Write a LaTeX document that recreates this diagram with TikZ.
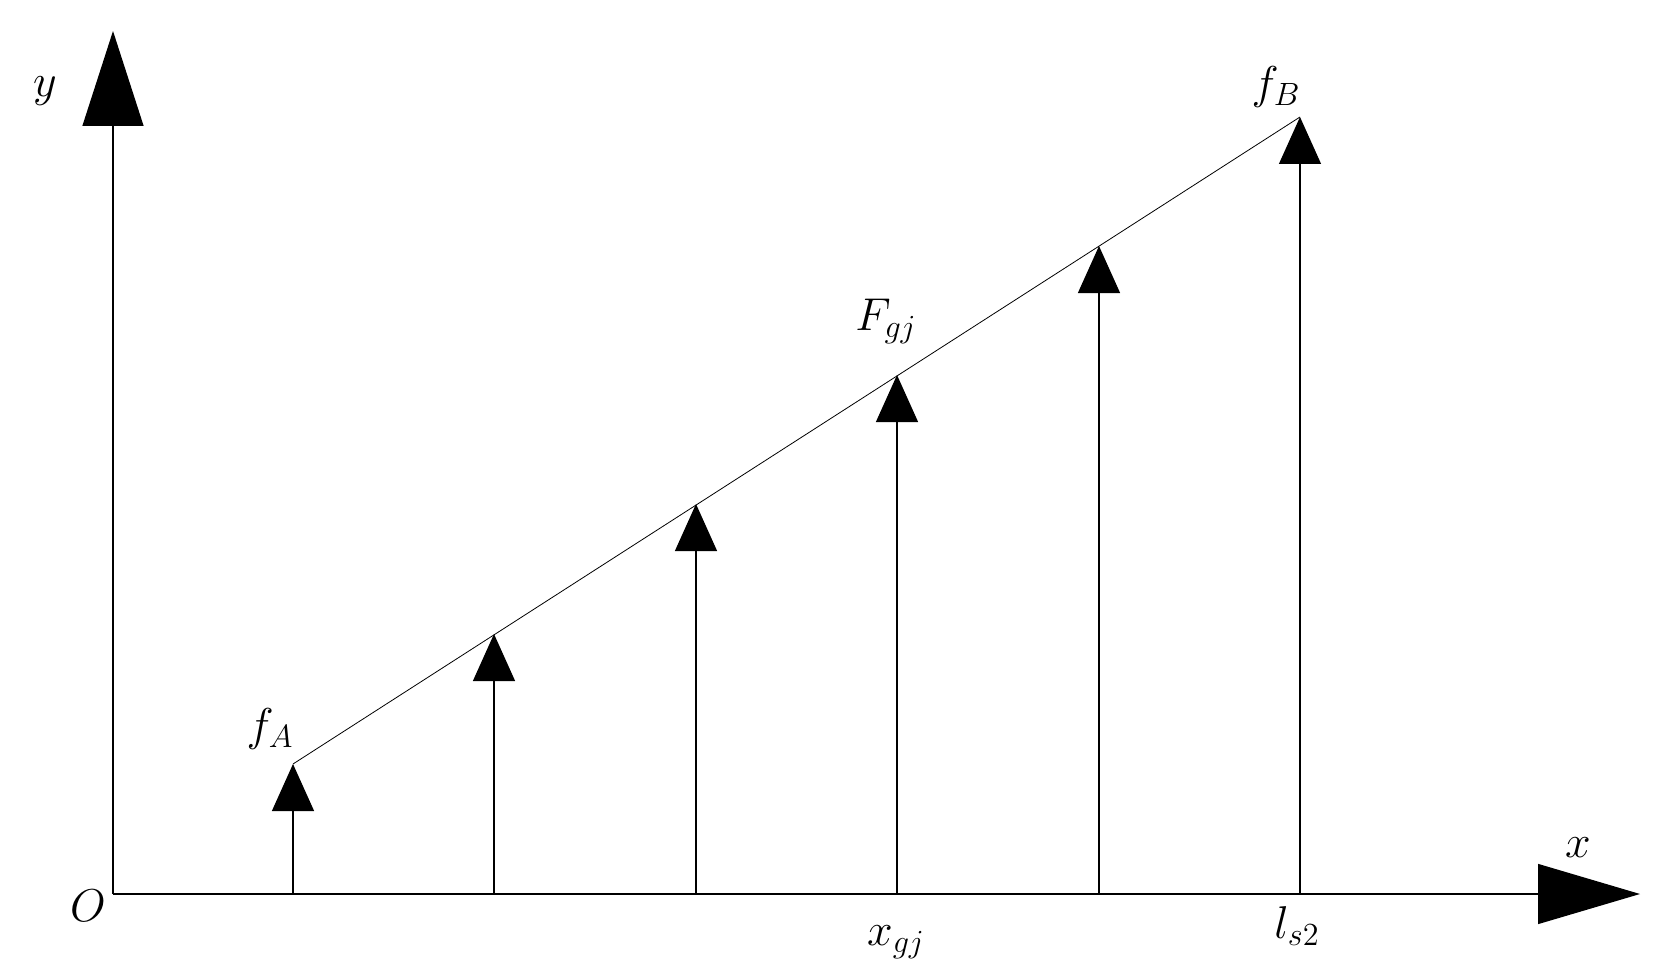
\RequirePackage{fix-cm}
\documentclass[tikz,border=0pt]{standalone}
\usepackage{amsmath}
\usetikzlibrary{arrows.meta}

\begin{document}
\begin{tikzpicture}[x=0.5pt,y=0.5pt,yscale=-1,xscale=1,
  axis x/.style={line width=0.65pt,-{Triangle[length=51pt,width=30pt]}},
  axis y/.style={line width=0.65pt,-{Triangle[length=47.5pt,width=30.5pt]}},
  force/.style={line width=0.6pt,-{Triangle[length=23.5pt,width=21pt]}},
  lbl/.style={inner sep=0.75pt,font=\fontsize{23}{28}\selectfont}]
\path[use as bounding box] (0,0) rectangle (1666,979);

%Points
\coordinate (O) at (113,894);
\coordinate (xend) at (1640,894);
\coordinate (yend) at (113,31);
\foreach \i/\x/\y in {1/293/764, 2/494/634, 3/696/504, 4/897/375, 5/1099/246, 6/1300/117}
  {\coordinate (b\i) at (\x,894); \coordinate (t\i) at (\x,\y);}

%Shape: Axis 2D
\draw[axis y] (O) -- (yend);
\draw[axis x] (O) -- (xend);
%Shape: Forces
\foreach \i in {1,...,6} \draw[force] (b\i) -- (t\i);
%Shape: Load line
\draw[line width=0.4pt] (t1) -- (t6);

% Text Node
\node[lbl] (lblO) at (88,906) {$O$};
% Text Node
\node[lbl] (lbly) at (45,91) {$y$};
% Text Node
\node[lbl] (lblx) at (1578,848) {$x$};
% Text Node
\node[lbl] (lblfA) at (270,729) {$f_A$};
% Text Node
\node[lbl] (lblFgj) at (886,321) {$F_{gj}$};
% Text Node
\node[lbl] (lblfB) at (1276,87) {$f_B$};
% Text Node
\node[lbl] (lblxgj) at (896,942) {$x_{gj}$};
% Text Node
\node[lbl] (lblls) at (1297,926) {$l_{s2}$};

\end{tikzpicture}
\end{document}
